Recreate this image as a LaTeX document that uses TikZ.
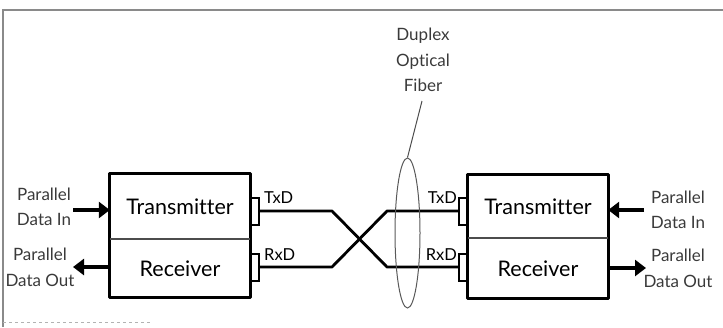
\documentclass[tikz,border=0pt]{standalone}
\usepackage{fontspec}
\setmainfont{Lato}[Ligatures=NoCommon]
\usetikzlibrary{arrows.meta,shapes.geometric}
\definecolor{txt}{HTML}{3A3A3A}
\definecolor{framec}{HTML}{8A8A8A}
\begin{document}
\begin{tikzpicture}[x=1pt,y=-1pt,
  blk/.style={minimum width=140pt, inner sep=0pt, font=\fontsize{21.5}{24}\selectfont},
  stubbox/.style={draw, line width=2pt, minimum width=8pt, minimum height=27pt, inner sep=0pt},
  lbl/.style={text=txt, font=\fontsize{17}{25.5}\selectfont, align=center, inner sep=0pt},
  port/.style={font=\fontsize{16.5}{18}\selectfont, inner sep=0pt},
  wire/.style={line width=2.8pt, line join=round},
  bus/.style={line width=4pt, -{Triangle[length=11pt,width=16pt]}},
  boxline/.style={line width=3pt, line join=round},
  divider/.style={line width=2pt, black!70},
]
\useasboundingbox (0,0) rectangle (723,327);
% frame
\draw[framec, line width=2.5pt] (2,10) -- (723,10);
\draw[framec, line width=2pt] (3,9) -- (3,327);
\draw[black!30, dashed, line width=1pt] (3,322) -- (150,322);

% left unit
\node[blk, minimum height=65pt] (ltx) at (180,206.5) {Transmitter};
\node[blk, minimum height=58pt, anchor=north] (lrx) at (ltx.south) {Receiver};
\draw[boxline] (ltx.north west) rectangle (lrx.south east);
\draw[divider] (ltx.south west) -- (ltx.south east);
\node[stubbox, anchor=west] (lts) at (250,211) {};
\node[stubbox, anchor=west] (lrs) at (250,267) {};
\node[port, anchor=base west] (ltd) at (264,203) {TxD};
\node[port, anchor=base west] (lrd) at (264,260) {RxD};

% right unit
\node[blk, minimum height=63pt] (rtx) at (538,206.5) {Transmitter};
\node[blk, minimum height=60pt, anchor=north] (rrx) at (rtx.south) {Receiver};
\draw[boxline] (rtx.north west) rectangle (rrx.south east);
\draw[divider] (rtx.south west) -- (rtx.south east);
\node[stubbox, anchor=east] (rts) at (468,211) {};
\node[stubbox, anchor=east] (rrs) at (468,267) {};
\node[port, anchor=base east] (rtd) at (457,203) {TxD};
\node[port, anchor=base east] (rrd) at (457,260) {RxD};

% crossed wires
\coordinate (c1) at (332,211);
\coordinate (c2) at (387,267);
\coordinate (c3) at (332,267);
\coordinate (c4) at (387,211);
\draw[wire] (lts.east) -- (c1) -- (c2) -- (rrs.west);
\draw[wire] (lrs.east) -- (c3) -- (c4) -- (rts.west);

% fiber ellipse and label
\node[draw=black!65, line width=1pt, ellipse, minimum width=25pt, minimum height=150pt, inner sep=0pt] (fib) at (407.5,233) {};
\node[lbl] (dof) at (423,60) {Duplex\\Optical\\Fiber};
\coordinate (lead) at (422,101);
\draw[black!70, line width=1pt] (fib.north) -- (lead);

% parallel data arrows
\node[lbl] (lin) at (44,207) {Parallel\\Data In};
\node[lbl] (lout) at (40,267.5) {Parallel\\Data Out};
\node[lbl] (rin) at (678,210) {Parallel\\Data In};
\node[lbl] (rout) at (678,268.5) {Parallel\\Data Out};
\coordinate (la) at (73,210);
\coordinate (lb) at (73,267);
\coordinate (ra) at (644,210);
\coordinate (rb) at (646,268);
\draw[bus] (la) -- (la -| ltx.west);
\draw[bus] (lb -| lrx.west) -- (lb);
\draw[bus] (ra) -- (ra -| rtx.east);
\draw[bus] (rb -| rrx.east) -- (rb);
\end{tikzpicture}
\end{document}
